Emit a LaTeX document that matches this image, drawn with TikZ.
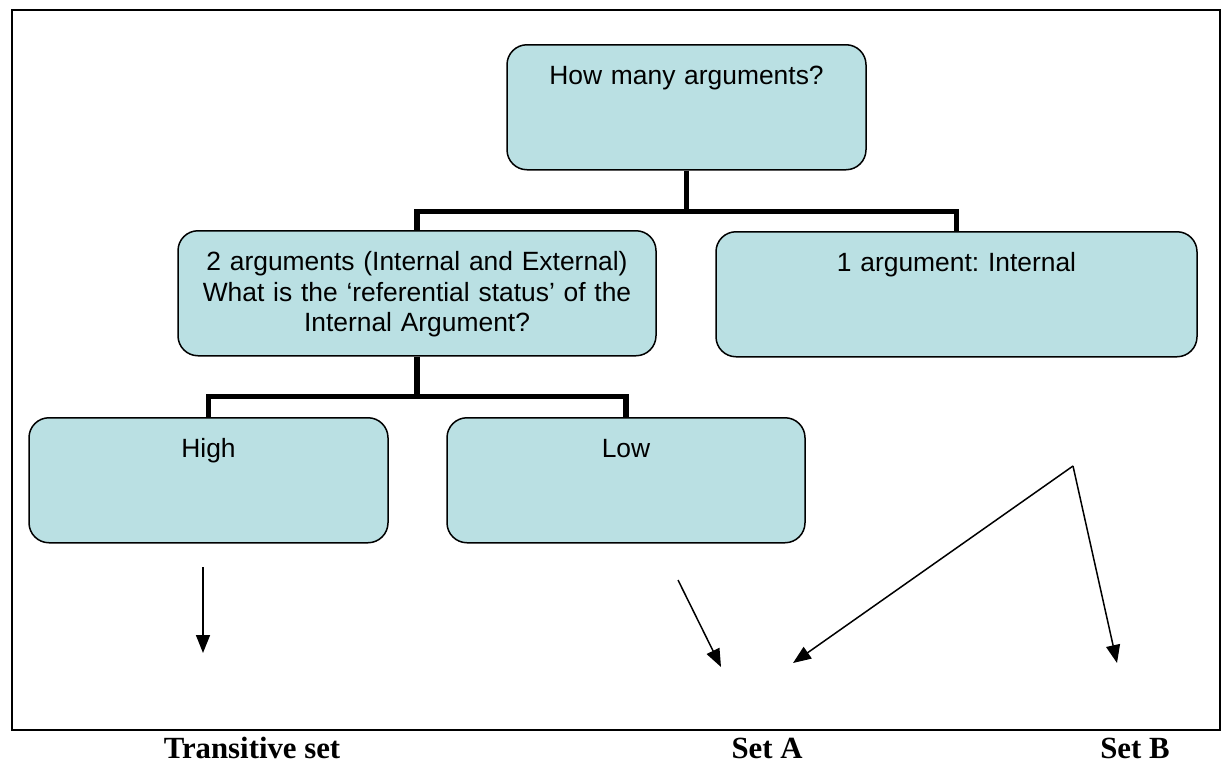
\documentclass[tikz,border=0pt]{standalone}
\usepackage{fontspec}
\setmainfont{Liberation Sans}
\newfontfamily\setfont{Liberation Serif}
\usetikzlibrary{arrows.meta}
\definecolor{boxblue}{RGB}{186,224,227}
\frenchspacing

\begin{document}
\begin{tikzpicture}[x=1pt, y=-1pt,
		box/.style={draw=black, line width=1.5pt, fill=boxblue, rounded corners=20pt,
			anchor=north, inner xsep=0pt, inner ysep=0pt, align=center,
			text height=40pt, text depth=85pt, font=\fontsize{26.4}{30.5}\selectfont},
		conn/.style={line width=5.5pt},
		arr/.style={line width=1.5pt, -{Triangle[length=18pt,width=14pt]}},
		setlabel/.style={anchor=base, font=\setfont\bfseries\fontsize{30.8}{36}\selectfont}]
		%%%%% START %%%%%
		
		\useasboundingbox (0,0) rectangle (1221,763);
		\draw[line width=2pt] (12,10) rectangle (1220,730);
		
		\node[box, text width=359pt] (howmany) at (686.5,44) {How many arguments?};
		\node[box, text width=478pt] (twoarg) at (417,230) {2 arguments (Internal and External)\\What is the ‘referential status’ of the\\Internal Argument?};
		\node[box, text width=481pt] (onearg) at (956.5,231) {1 argument: Internal};
		\node[box, text width=359pt] (high) at (208.5,417) {High};
		\node[box, text width=358pt] (low) at (626,417) {Low};
		
		\draw[conn] (howmany.south) -- ++(0,41) -| (twoarg.north);
		\draw[conn] (howmany.south) -- ++(0,41) -| (onearg.north);
		\draw[conn] (twoarg.south) -- ++(0,40) -| (high.north);
		\draw[conn] (twoarg.south) -- ++(0,40) -| (low.north);
		
		\coordinate (hightail) at (203,567);
		\coordinate (highhead) at (203,653);
		\coordinate (lowtail) at (678,580);
		\coordinate (lowhead) at (721,667);
		\coordinate (apex) at (1073,466);
		\coordinate (headA) at (793,663);
		\coordinate (headB) at (1117,663);
		
		\draw[arr] (hightail) -- (highhead);
		\draw[arr] (lowtail) -- (lowhead);
		\draw[arr] (apex) -- (headA);
		\draw[arr] (apex) -- (headB);
		
		\node[setlabel] (transset) at (252,758) {Transitive set};
		\node[setlabel] (seta) at (767,758) {Set A};
		\node[setlabel] (setb) at (1135,758) {Set B};
		
		%%%%% END %%%%%
	\end{tikzpicture}
\end{document}
